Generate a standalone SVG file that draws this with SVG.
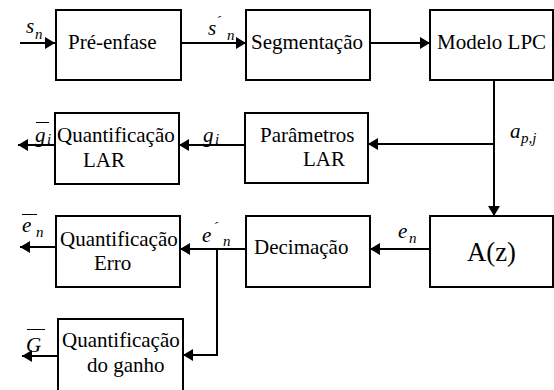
<svg xmlns="http://www.w3.org/2000/svg" width="554" height="390" viewBox="0 0 554 390">
<defs>
<marker id="ah" markerUnits="userSpaceOnUse" markerWidth="11" markerHeight="13" refX="10" refY="6.5" orient="auto">
<path d="M0,0.5 L10,6.5 L0,12.5 Z" fill="#000"/>
</marker>
</defs>
<style>
.box{fill:#fff;stroke:#000;stroke-width:2}
.t{font-size:21px;fill:#000}
.m{font-size:21px;font-style:italic;fill:#000}
.s{font-size:15px}
.c{fill:none;stroke:#000;stroke-width:2}
.a{marker-end:url(#ah)}
</style>
<rect width="554" height="390" fill="#fff"/>
<g id="connectors">
<path class="c a" d="M20,43 H55"/>
<path class="c a" d="M181,43 H246"/>
<path class="c a" d="M370,43 H430"/>
<path class="c a" d="M494,80 V216"/>
<path class="c a" d="M494,144 H368"/>
<path class="c a" d="M245,145 H179"/>
<path class="c a" d="M55,145 H18"/>
<path class="c a" d="M430,249 H370"/>
<path class="c a" d="M246,249 H180"/>
<path class="c a" d="M217,249 V355 H183"/>
<path class="c a" d="M56,247 H20"/>
<path class="c a" d="M58,356 H22"/>
</g>
<g font-family="Liberation Serif, Tinos, DejaVu Serif, serif">
<g id="n-preenfase"><rect class="box" x="56" y="10" width="125" height="70"/><text class="t" x="68" y="49">Pré-enfase</text></g>
<g id="n-segmentacao"><rect class="box" x="246" y="10" width="124" height="70"/><text class="t" x="251" y="49">Segmentação</text></g>
<g id="n-lpc"><rect class="box" x="430" y="10" width="123" height="70"/><text class="t" x="437" y="49">Modelo LPC</text></g>
<g id="n-parlar"><rect class="box" x="245" y="113" width="123" height="70"/><text class="t" x="260" y="142">Parâmetros</text><text class="t" x="303" y="166">LAR</text></g>
<g id="n-qlar"><rect class="box" x="55" y="113" width="124" height="71"/><text class="t" x="57" y="142">Quantificação</text><text class="t" x="83" y="167">LAR</text></g>
<g id="n-az"><rect class="box" x="430" y="216" width="123" height="71"/><text class="t" x="467" y="261" style="font-size:26.7px">A(z)</text></g>
<g id="n-decimacao"><rect class="box" x="246" y="216" width="124" height="71"/><text class="t" x="254" y="254">Decimação</text></g>
<g id="n-qerro"><rect class="box" x="56" y="216" width="124" height="71"/><text class="t" x="60" y="246">Quantificação</text><text class="t" x="94" y="270">Erro</text></g>
<g id="n-qganho"><rect class="box" x="58" y="319" width="125" height="80"/><text class="t" x="62" y="347">Quantificação</text><text class="t" x="87" y="372">do ganho</text></g>
<g id="labels">
<text class="m" x="26" y="33">s</text><text class="m s" x="35" y="39">n</text>
<text class="m" x="208" y="35">s</text><text class="m s" x="216" y="26">´</text><text class="m s" x="227" y="40">n</text>
<text class="m" x="510" y="138">a</text><text class="m s" x="521" y="143">p,j</text>
<text class="m" x="203" y="142">g</text><text class="m s" x="215" y="144">i</text>
<text class="m" x="35" y="142">g</text><text class="m s" x="47" y="144">i</text><path d="M36,122.5 H49" stroke="#000" stroke-width="1"/>
<text class="m" x="202" y="242">e</text><text class="m s" x="213" y="232">´</text><text class="m s" x="223" y="246">n</text>
<text class="m" x="22" y="232">e</text><text class="m s" x="36" y="237">n</text><path d="M22,214.5 H37" stroke="#000" stroke-width="1"/>
<text class="m" x="398" y="238">e</text><text class="m s" x="409" y="243">n</text>
<text class="m" x="26" y="352">G</text><path d="M27,329.5 H45" stroke="#000" stroke-width="1"/>
</g>
</g>
</svg>
